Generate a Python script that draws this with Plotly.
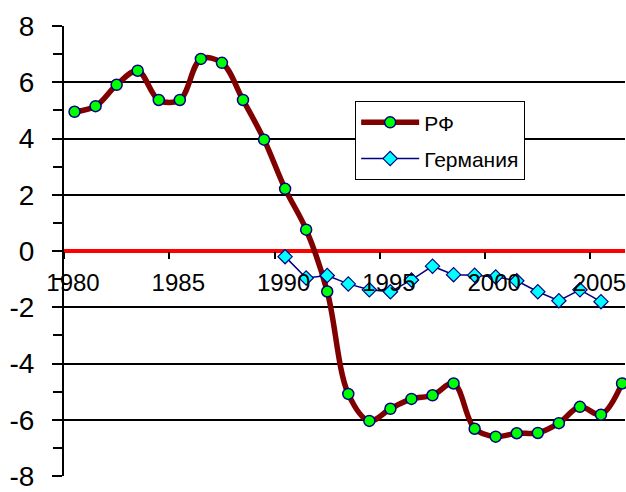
import plotly.graph_objects as go

years = list(range(1980, 2007))
rf = [4.95, 5.15, 5.91, 6.41, 5.37, 5.37, 6.83, 6.69, 5.37, 3.96, 2.21, 0.76,
      -1.44, -5.08, -6.04, -5.61, -5.26, -5.13, -4.71, -6.32, -6.60, -6.48,
      -6.47, -6.12, -5.54, -5.82, -4.71]
de_years = list(range(1990, 2006))
germany = [-0.2, -0.96, -0.87, -1.17, -1.38, -1.45, -1.03, -0.54, -0.84, -0.86,
           -0.92, -1.06, -1.45, -1.77, -1.38, -1.8]
tick_years = [1980, 1985, 1990, 1995, 2000, 2005]
y_ticks = [-8, -6, -4, -2, 0, 2, 4, 6, 8]

FONT = "Liberation Sans, Arial, sans-serif"

fig = go.Figure()
fig.add_trace(go.Scatter(
    x=years, y=rf, name="РФ", mode="lines+markers",
    line=dict(color="#800000", width=5.5, shape="spline", smoothing=1),
    marker=dict(symbol="circle", size=11, color="#00FF00",
                line=dict(color="#000080", width=1.5)),
    cliponaxis=False, legendgroup="a"))
fig.add_trace(go.Scatter(
    x=de_years, y=germany, name="Германия", mode="lines+markers",
    line=dict(color="#000080", width=1.5),
    marker=dict(symbol="diamond", size=11, color="#00FFFF",
                line=dict(color="#000080", width=1.2)),
    cliponaxis=False, legendgroup="b"))

fig.update_layout(
    width=626, height=492,
    margin=dict(l=64, r=0, t=26, b=12),
    paper_bgcolor="white", plot_bgcolor="white",
    font=dict(family=FONT, color="black"),
    showlegend=True,
    legend=dict(x=0.519, y=0.833, xanchor="left", yanchor="top",
                bgcolor="white", bordercolor="black", borderwidth=1,
                font=dict(size=21, family=FONT), itemwidth=58,
                tracegroupgap=6),
    xaxis=dict(range=[1979.5, 2006.14],
               tickvals=[t - 0.5 for t in tick_years],
               ticktext=[str(t) for t in tick_years],
               ticks="outside", ticklen=7, tickwidth=1.5, tickcolor="black",
               ticklabelshift=9, ticklabelstandoff=3,
               ticklabeloverflow="allow",
               tickfont=dict(size=24, family=FONT),
               anchor="free", position=0.5,
               showline=False, showgrid=False, zeroline=False),
    yaxis=dict(range=[-8, 8], tickvals=y_ticks,
               ticktext=[str(v) for v in y_ticks],
               ticklabeloverflow="allow",
               showgrid=True, gridcolor="black", gridwidth=1.5,
               showline=True, linecolor="black", linewidth=2,
               ticks="outside", ticklen=10, tickwidth=1.5, tickcolor="black",
               minor=dict(dtick=1, ticks="outside", ticklen=9, tickwidth=1.5,
                          tickcolor="black", showgrid=False),
               zeroline=True, zerolinecolor="#FF0000", zerolinewidth=4,
               tickfont=dict(size=28, family=FONT), ticklabelstandoff=12),
)

fig.write_html("out.html",
               config={"displayModeBar": False},
               post_script="document.body.style.margin='0';"
                           "document.body.style.padding='0';"
                           "document.body.style.overflow='hidden';")
